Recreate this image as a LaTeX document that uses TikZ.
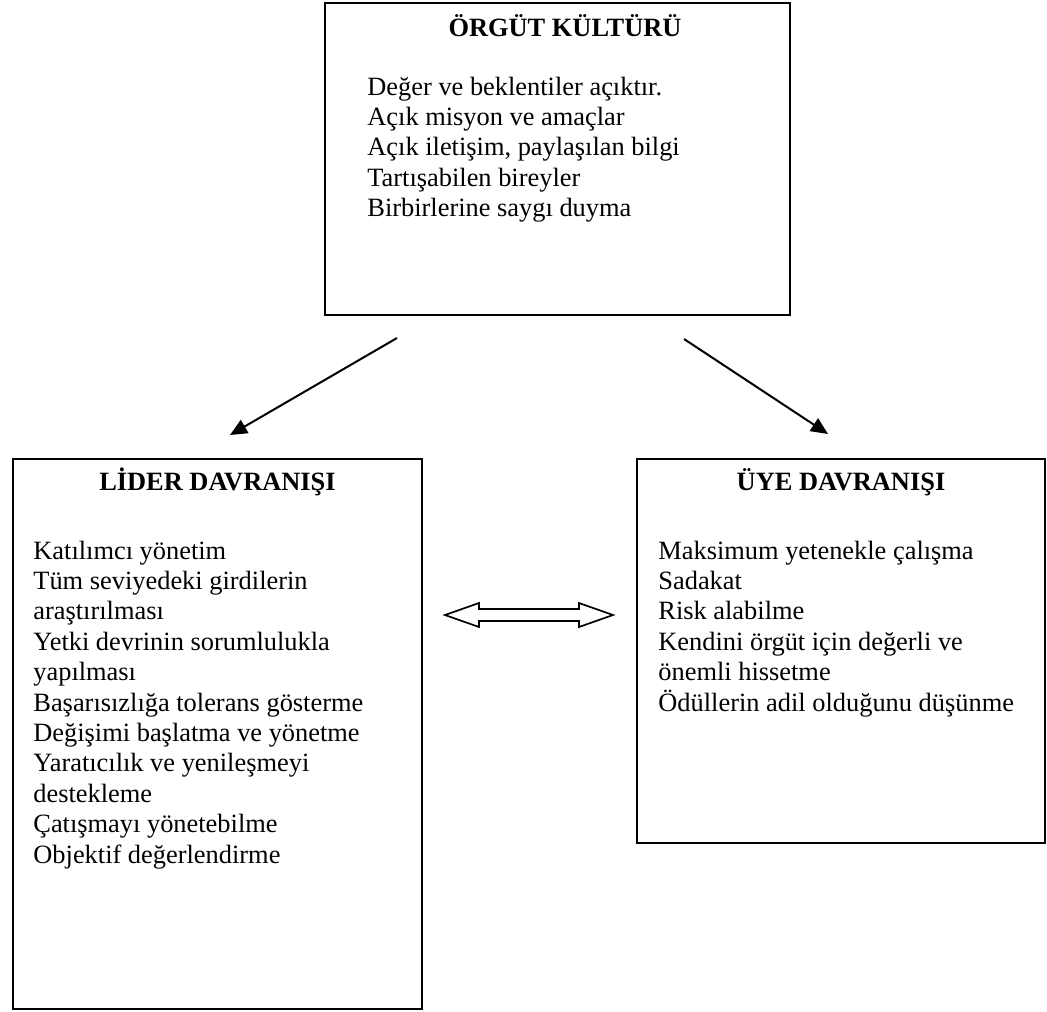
\documentclass[tikz,border=0pt]{standalone}
\usepackage{fontspec}
\setmainfont{Liberation Serif}
\usepackage{tikz}
\usetikzlibrary{arrows.meta,positioning}

\begin{document}
\begin{tikzpicture}[
  x=0.5pt, y=-0.5pt,
  every node/.style={font=\fontsize{13.2}{15.2}\selectfont},
  box/.style={rectangle, draw=black, line width=0.9pt, inner sep=0pt},
  head/.style={anchor=base, inner sep=0pt, font=\fontsize{13.2}{15.2}\selectfont\bfseries},
  items/.style={anchor=base west, align=left, inner sep=0pt},
  link/.style={line width=1pt, -{Triangle[length=8.5pt, width=7.5pt]}}
]
\useasboundingbox (0,0) rectangle (1047,1011);

% boxes
\node[box, minimum width=232.5pt, minimum height=156pt] (org) at (557.5,159) {};
\node[box, minimum width=204.5pt, minimum height=275pt] (lider) at (217.5,734) {};
\node[box, minimum width=204pt, minimum height=192pt] (uye) at (841,651) {};

% texts (base = last line)
\node[head] (orgt) at (565,37) {ÖRGÜT KÜLTÜRÜ};
\node[items] (orgl) at (367,216.6) {Değer ve beklentiler açıktır.\\
  Açık misyon ve amaçlar\\
  Açık iletişim, paylaşılan bilgi\\
  Tartışabilen bireyler\\
  Birbirlerine saygı duyma};
\node[head] (lidert) at (217.5,490) {LİDER DAVRANIŞI};
\node[items] (liderl) at (33,863) {Katılımcı yönetim\\
  Tüm seviyedeki girdilerin\\
  araştırılması\\
  Yetki devrinin sorumlulukla\\
  yapılması\\
  Başarısızlığa tolerans gösterme\\
  Değişimi başlatma ve yönetme\\
  Yaratıcılık ve yenileşmeyi\\
  destekleme\\
  Çatışmayı yönetebilme\\
  Objektif değerlendirme};
\node[head] (uyet) at (841,490) {ÜYE DAVRANIŞI};
\node[items] (uyel) at (658,711) {Maksimum yetenekle çalışma\\
  Sadakat\\
  Risk alabilme\\
  Kendini örgüt için değerli ve\\
  önemli hissetme\\
  Ödüllerin adil olduğunu düşünme};

% arrows
\coordinate (o1) at (397,338);
\coordinate (l1) at (230,435);
\coordinate (o2) at (684,339);
\coordinate (u1) at (828,434);
\draw[link] (o1) -- (l1);
\draw[link] (o2) -- (u1);

% double arrow between the two behaviours
\draw[line width=0.85pt] (445,615) -- (479,603) -- (479,609) -- (579,609) -- (579,603)
  -- (613,615) -- (579,627) -- (579,621) -- (479,621) -- (479,627) -- cycle;
\end{tikzpicture}
\end{document}
